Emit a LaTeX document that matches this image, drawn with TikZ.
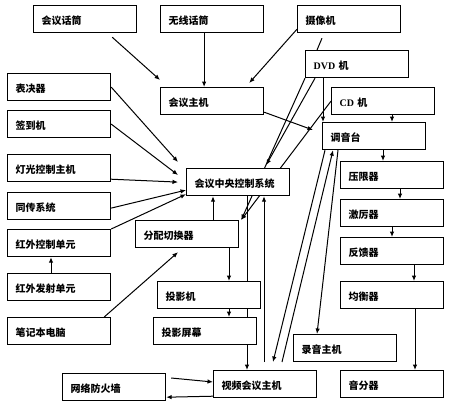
\documentclass[tikz,border=0pt]{standalone}
\usepackage{fontspec}
\setmainfont{Liberation Serif}
\newfontfamily\cjk{Noto Sans CJK SC}
\usetikzlibrary{arrows.meta,backgrounds}

\begin{document}
\begin{tikzpicture}[x=1pt,y=-1pt,
  unit/.style={draw,line width=1.2pt,fill=white,anchor=north west,
    minimum width=103pt,minimum height=27pt,inner xsep=8pt,text width=87pt,
    text height=11pt,text depth=0pt,
    align=left,font={\cjk\bfseries\fontsize{10}{12}\selectfont}},
  link/.style={line width=1pt,-{Latex[length=5.5pt,width=4.5pt]}}]
\useasboundingbox (0,0) rectangle (455,400);

% left column
\node[unit] (vote) at (7,73) {表决器};
\node[unit] (sign) at (7,110) {签到机};
\node[unit] (light) at (7,154) {灯光控制主机};
\node[unit] (trans) at (7,192) {同传系统};
\node[unit] (irc) at (7,229) {红外控制单元};
\node[unit] (irt) at (7,273) {红外发射单元};
\node[unit] (laptop) at (7,317) {笔记本电脑};

% top row
\node[unit] (mic) at (33,5) {会议话筒};
\node[unit] (wmic) at (160,5) {无线话筒};
\node[unit] (cam) at (297,5) {摄像机};
\node[unit] (dvd) at (305,50) {{\rmfamily DVD} 机};
\node[unit] (host) at (160,87) {会议主机};
\node[unit] (cd) at (331,87) {{\rmfamily CD} 机};

% middle
\node[unit] (ccs) at (186,168) {会议中央控制系统};
\node[unit] (switch) at (135,220) {分配切换器};
\node[unit] (proj) at (157,281) {投影机};
\node[unit] (screen) at (153,317) {投影屏幕};
\node[unit] (rec) at (293,334) {录音主机};
\node[unit] (fw) at (62,373) {网络防火墙};
\node[unit] (vc) at (213,370) {视频会议主机};

% audio chain
\node[unit] (mixer) at (322,122) {调音台};
\node[unit] (limiter) at (340,161) {压限器};
\node[unit] (exciter) at (340,199) {激厉器};
\node[unit] (feedback) at (340,237) {反馈器};
\node[unit] (eq) at (340,281) {均衡器};
\node[unit] (split) at (340,370) {音分器};

\begin{scope}[on background layer]
\draw[link] ([xshift=-25pt,yshift=-4pt]mic.south east) -- ([yshift=7pt]host.north west);
\draw[link] ([xshift=-8pt]wmic.south) -- ([xshift=-8pt]host.north);
\draw[link] ([yshift=4pt]cam.south west) -- ([xshift=-15pt,yshift=4pt]host.north east);
\draw[line width=1pt] ([xshift=25pt,yshift=-5pt]cam.south west) -- ([xshift=12pt]dvd.north west);
\draw[link] ([yshift=3pt]host.south east) -- ([xshift=-9pt,yshift=-8pt]mixer.north west);
\draw[link] ([xshift=18pt]dvd.south west) -- ([xshift=1pt]mixer.north west);
\draw[link] ([xshift=61pt]cd.south west) -- ([xshift=70pt]mixer.north west);
\draw[link] ([xshift=10pt]dvd.south west) -- ([xshift=-24pt,yshift=3pt]ccs.north east);
\draw[link] (dvd.south west) -- ([xshift=2pt]switch.north east);
\draw[link] (cd.west) -- ([xshift=2pt]switch.north east);

\draw[link] (vote.east) -- ([xshift=-8pt,yshift=6pt]ccs.north west);
\draw[link] (sign.east) -- ([xshift=-8pt,yshift=-7pt]ccs.north west);
\draw[link] ([yshift=3pt]light.south east) -- ([xshift=-8pt]ccs.west);
\draw[link] ([yshift=-2pt]trans.east) -- ([yshift=-8pt]ccs.west);
\draw[link] (irc.north east) -- ([yshift=2pt]ccs.south west);
\draw[link] ([xshift=44pt]irt.north west) -- ([xshift=44pt]irc.south west);
\draw[link] ([xshift=-7pt]laptop.north east) -- ([xshift=43pt,yshift=-4pt]switch.south west);

\draw[link] ([xshift=78pt]switch.north west) -- ([xshift=27pt]ccs.south west);
\draw[link] ([xshift=94pt]switch.south west) -- ([xshift=72pt]proj.north west);
\draw[link] ([xshift=72pt]proj.south west) -- ([xshift=76pt]screen.north west);
\draw[link] ([xshift=61pt]ccs.south west) -- ([xshift=34pt]vc.north west);
\draw[link] ([xshift=51pt,yshift=8pt]vc.north west) -- ([xshift=78pt]ccs.south west);

\draw[link] ([xshift=3pt]mixer.south west) -- ([xshift=60pt,yshift=8pt]vc.north west);
\draw[link] ([xshift=69pt,yshift=8pt]vc.north west) -- ([xshift=11pt]mixer.south west);
\draw[link] ([xshift=16pt]mixer.south west) -- ([xshift=24pt]rec.north west);
\draw[link] ([xshift=5pt,yshift=-5pt]fw.north east) -- ([yshift=-12pt]vc.north west);
\draw[link] ([yshift=2pt]vc.south west) -- ([yshift=4pt]fw.south east);

\draw[link] ([xshift=61pt]mixer.south west) -- ([xshift=43pt]limiter.north west);
\draw[link] ([xshift=60pt]limiter.south west) -- ([xshift=60pt]exciter.north west);
\draw[link] ([xshift=52pt]exciter.south west) -- ([xshift=52pt]feedback.north west);
\draw[link] ([xshift=74pt]feedback.south west) -- ([xshift=74pt]eq.north west);
\draw[link] ([xshift=75pt]eq.south west) -- ([xshift=75pt]split.north west);
\end{scope}
\end{tikzpicture}
\end{document}
